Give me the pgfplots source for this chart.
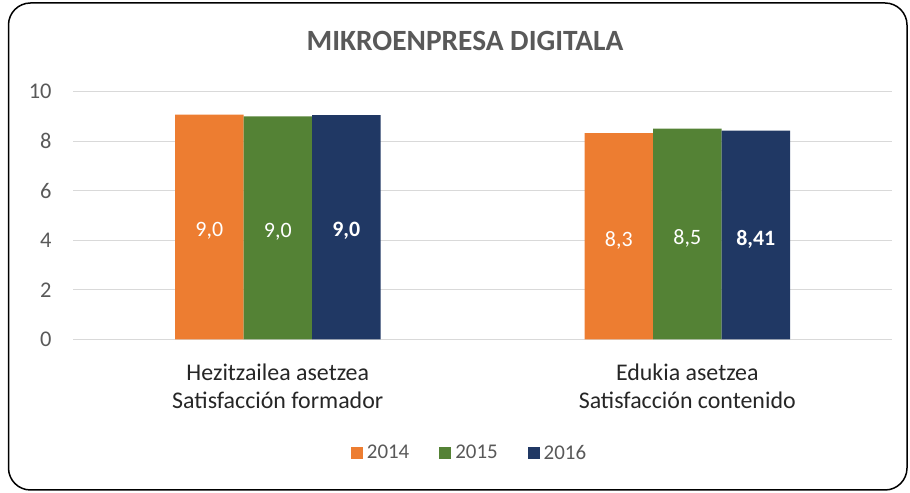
\documentclass[border=0pt]{standalone}
\usepackage{pgfplots}
\pgfplotsset{compat=1.18}
\usepackage{fontspec}
\setmainfont{Carlito}
\definecolor{c14}{HTML}{ED7D31}
\definecolor{c15}{HTML}{548235}
\definecolor{c16}{HTML}{203864}
\definecolor{txtgray}{HTML}{595959}
\definecolor{gridgray}{HTML}{D9D9D9}
\begin{document}
\begin{tikzpicture}[x=1bp,y=1bp]
\path[use as bounding box] (0,0) rectangle (910,493);
\draw[line width=1.5bp, rounded corners=22bp] (8.5,3) rectangle (907,490);
\node[font=\fontsize{29.5}{34}\selectfont\bfseries, text=txtgray] at (465,452) {MIKROENPRESA DIGITALA};
\begin{axis}[
  at={(73bp,153.7bp)}, anchor=south west,
  scale only axis, width=819bp, height=247.6bp,
  xmin=-0.5, xmax=1.5, ymin=0, ymax=10,
  ytick={0,2,4,6,8,10},
  xtick={0,1},
  xticklabels={{Hezitzailea asetzea\\Satisfacción formador},{Edukia asetzea\\Satisfacción contenido}},
  xticklabel style={align=center, font=\fontsize{24}{28}\selectfont, text=black!85, yshift=-21bp},
  yticklabel style={font=\fontsize{22.5}{26}\selectfont, text=txtgray, xshift=-18bp},
  /pgf/number format/assume math mode=true,
  ymajorgrids, grid style={gridgray, line width=1bp},
  axis line style={draw=none},
  major tick length=0pt,
  ybar=0pt, bar width=68.5bp,
  visualization depends on={rawy/2 \as \halfy},
  nodes near coords,
  point meta=explicit symbolic,
  every node near coord/.append style={anchor=center, text=white, font=\fontsize{22}{26}\selectfont, shift={(axis direction cs:0,-\halfy)}, yshift=-4bp},
  legend style={at={(0.5,-0.459)}, anchor=center, xshift=-13bp, draw=none, legend columns=3, font=\fontsize{21}{24}\selectfont, text=txtgray, /tikz/every even column/.append style={column sep=28bp}, /tikz/every odd column/.append style={column sep=2bp}},
  legend image code/.code={\fill[#1] (0bp,-6bp) rectangle (12bp,6bp);},
]
\addplot[fill=c14, draw=none] coordinates {(0,9.07) [9,0] (1,8.33) [8,3]};
\addplot[fill=c15, draw=none] coordinates {(0,9.0) [9,0] (1,8.51) [8,5]};
\addplot[fill=c16, draw=none, every node near coord/.append style={font=\fontsize{22}{26}\selectfont\bfseries}] coordinates {(0,9.05) [9,0] (1,8.43) [8,41]};
\legend{2014,2015,2016}
\end{axis}
\end{tikzpicture}
\end{document}
